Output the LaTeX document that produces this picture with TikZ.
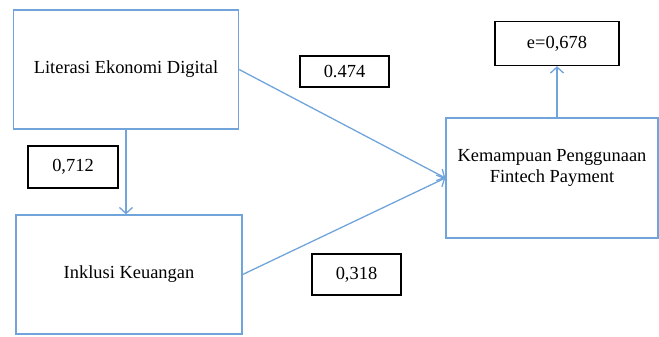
\documentclass[tikz,border=0pt]{standalone}
\usepackage{fontspec}
\setmainfont{Liberation Serif}
\usepackage{xcolor}
\usetikzlibrary{positioning,shapes,arrows.meta}
\definecolor{pathblue}{RGB}{112,164,218}

\begin{document}
\begin{tikzpicture}[x=1bp, y=-1bp,
  varbox/.style={draw=pathblue, line width=1.3bp, rectangle, align=center, font=\fontsize{18.5}{21}\selectfont},
  coefbox/.style={draw=black, line width=1.3bp, rectangle, inner sep=0pt, font=\fontsize{18.5}{21}\selectfont},
  pathline/.style={draw=pathblue, line width=1.3bp, -{Straight Barb[length=6bp, width=13bp]}}]
\useasboundingbox (0,0) rectangle (659,336);

\node[varbox, minimum width=225bp, minimum height=119bp] (lit) at (126,69.5) {Literasi Ekonomi Digital};
\node[varbox, minimum width=226bp, minimum height=119bp] (ink) at (129,274.5) {Inklusi Keuangan};
\node[varbox, minimum width=212bp, minimum height=120bp] (kem) at (552,178) {Kemampuan Penggunaan\\Fintech Payment\\[4bp]};

\node[coefbox, minimum width=124bp, minimum height=44bp] (err) at (557,43.5) {e=0,678};
\node[coefbox, minimum width=89bp, minimum height=31bp] (c474) at (344.5,71.5) {0.474};
\node[coefbox, minimum width=90bp, minimum height=42bp] (c712) at (73,167) {0,712};
\node[coefbox, minimum width=89bp, minimum height=41bp] (c318) at (356.5,274.5) {0,318};

% paths
\draw[pathline] (lit.south) -- (lit.south |- ink.north);
\draw[pathline] (lit.east) -- (kem.west);
\draw[pathline] (ink.east) -- (kem.west);
\draw[pathline] (kem.north -| err.south) -- (err.south);
\end{tikzpicture}
\end{document}
